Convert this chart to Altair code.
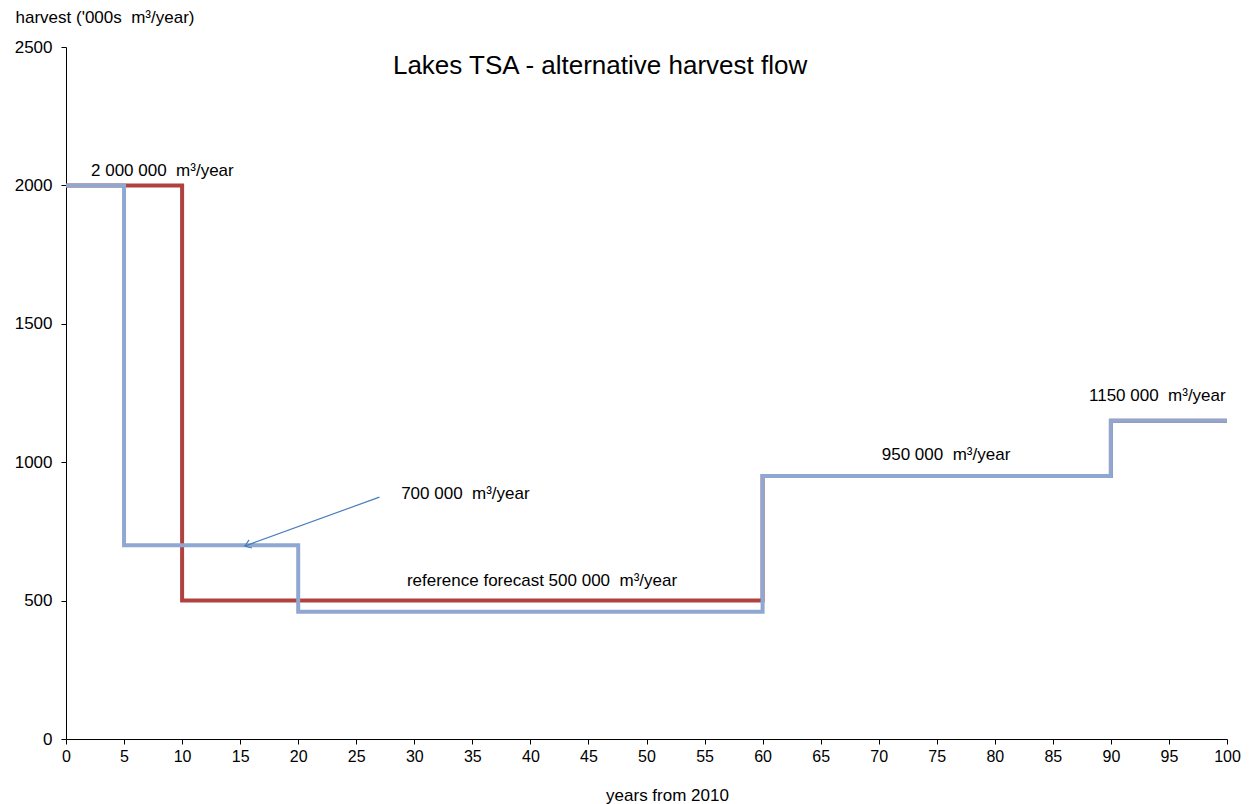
import altair as alt
import pandas as pd

# Step series (value applies from this year onward)
ref_years = [0, 10, 60, 90, 100]
ref_vals = [2000, 500, 950, 1150, 1150]
alt_years = [0, 5, 20, 60, 90, 100]
alt_vals = [2000, 700, 460, 950, 1150, 1150]

NB = "\u00a0"
# Annotations
ann_text = ["2" + NB + "000" + NB + "000" + NB + NB + "m³/year",
            "700" + NB + "000" + NB + NB + "m³/year",
            "reference forecast 500" + NB + "000" + NB + NB + "m³/year",
            "950" + NB + "000" + NB + NB + "m³/year",
            "1150" + NB + "000" + NB + NB + "m³/year"]
ann_x = [8.3, 34.4, 41.0, 75.8, 94.0]
ann_y = [2052, 885, 571, 1026, 1239]

title_text = ["Lakes TSA - alternative harvest flow"]
title_x = [46.0]
title_y = [2432]

arrow_x = [27.0, 15.4]
arrow_y = [874, 697]

ref = pd.DataFrame({"year": ref_years, "harvest": ref_vals})
alt_df = pd.DataFrame({"year": alt_years, "harvest": alt_vals})
ann = pd.DataFrame({"text": ann_text, "x": ann_x, "y": ann_y})
ttl = pd.DataFrame({"text": title_text, "x": title_x, "y": title_y})
arrow = pd.DataFrame({"x": arrow_x, "y": arrow_y, "i": [0, 1]})
arrow_tip = arrow.iloc[[1]]

FONT = "Liberation Sans"

xscale = alt.Scale(domain=[0, 100], nice=False, zero=False)
yscale = alt.Scale(domain=[0, 2500], nice=False)

xaxis = alt.Axis(values=list(range(0, 101, 5)), title="years from 2010", grid=False,
                 domainColor="black", tickColor="black", tickSize=5, labelFontSize=16,
                 labelColor="black", labelFont=FONT, titleFont=FONT, titleFontSize=17,
                 titleFontWeight="normal", titleColor="black", titleX=601, titleY=56,
                 titleBaseline="middle", labelPadding=4, format="d", labelFlush=False)
yaxis = alt.Axis(values=list(range(0, 2501, 500)), title="harvest ('000s" + NB + NB + "m³/year)",
                 grid=False,
                 domainColor="black", tickColor="black", tickSize=5, labelFontSize=17,
                 labelColor="black", labelFont=FONT, titleFont=FONT, titleFontSize=17,
                 titleFontWeight="normal", titleColor="black", titleAngle=0,
                 titleAlign="left", titleBaseline="middle", titleX=-51, titleY=-30,
                 labelPadding=9, format="d", labelFlush=False)

red = alt.Chart(ref).mark_line(interpolate="step-after", color="#b0413e", strokeWidth=4,
                               strokeJoin="miter").encode(
    x=alt.X("year:Q", scale=xscale, axis=xaxis),
    y=alt.Y("harvest:Q", scale=yscale, axis=yaxis),
)
blue = alt.Chart(alt_df).mark_line(interpolate="step-after", color="#8fa8d1", strokeWidth=4,
                                   strokeJoin="miter").encode(
    x=alt.X("year:Q", scale=xscale),
    y=alt.Y("harvest:Q", scale=yscale),
)
arrow_line = alt.Chart(arrow).mark_line(color="#4a7ebb", strokeWidth=1.2).encode(
    x=alt.X("x:Q", scale=xscale), y=alt.Y("y:Q", scale=yscale), order="i:Q"
)
arrow_head = alt.Chart(arrow_tip).mark_point(
    shape="M -1 -0.7 L 0 0 L -1 0.7", filled=False, color="#4a7ebb", strokeWidth=1.2,
    size=150, angle=160, opacity=1
).encode(x=alt.X("x:Q", scale=xscale), y=alt.Y("y:Q", scale=yscale))

labels = alt.Chart(ann).mark_text(font=FONT, fontSize=17, color="black", baseline="middle").encode(
    x=alt.X("x:Q", scale=xscale), y=alt.Y("y:Q", scale=yscale), text="text:N"
)
title = alt.Chart(ttl).mark_text(font=FONT, fontSize=26, color="black", baseline="middle").encode(
    x=alt.X("x:Q", scale=xscale), y=alt.Y("y:Q", scale=yscale), text="text:N"
)

chart = alt.layer(red, blue, arrow_line, arrow_head, labels, title).properties(
    width=1161, height=692,
    padding={"left": 66, "top": 47, "right": 24, "bottom": 65},
    autosize=alt.AutoSizeParams(type="none"),
    background="white",
).configure_view(stroke=None)

chart.save("out.html", embed_options={"renderer": "svg", "actions": False})
